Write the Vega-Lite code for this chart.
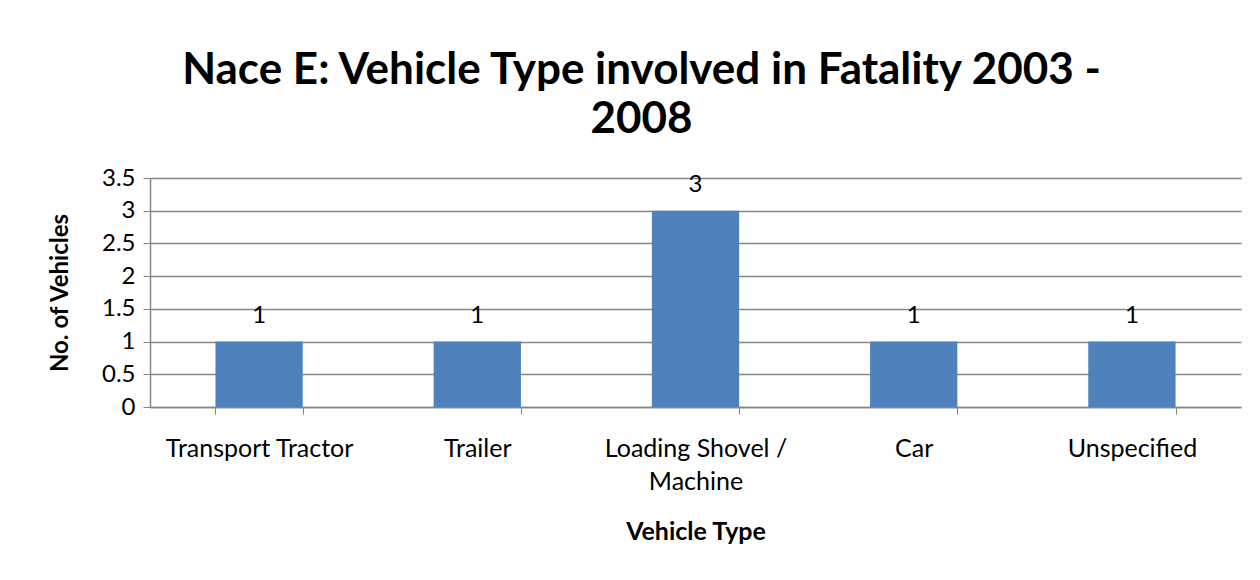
{
  "$schema": "https://vega.github.io/schema/vega-lite/v6.json",
  "width": 1091,
  "height": 229,
  "autosize": "none",
  "padding": {"left": 150, "top": 178, "right": 19, "bottom": 173},
  "background": "white",
  "title": {
    "text": ["Nace E: Vehicle Type involved in Fatality 2003 -", "2008"],
    "font": "Lato",
    "fontSize": 44,
    "fontWeight": "bold",
    "color": "black",
    "anchor": "middle",
    "frame": "group",
    "dx": -54,
    "offset": 24,
    "lineHeight": 49
  },
  "data": {
    "values": [
      {"type": "Transport Tractor", "count": 1},
      {"type": "Trailer", "count": 1},
      {"type": "Loading Shovel / Machine", "count": 3},
      {"type": "Car", "count": 1},
      {"type": "Unspecified", "count": 1}
    ]
  },
  "encoding": {
    "x": {
      "field": "type",
      "type": "nominal",
      "sort": null,
      "scale": {"paddingInner": 0.6, "paddingOuter": 0.3},
      "axis": {
        "title": "Vehicle Type",
        "titleFont": "Lato",
        "titleFontSize": 25,
        "titleFontWeight": "bold",
        "titleColor": "black",
        "titlePadding": 25,
        "labelFont": "Lato",
        "labelFontSize": 25,
        "labelColor": "black",
        "labelAngle": 0,
        "labelPadding": 22,
        "labelLimit": 300,
        "labelLineHeight": 33,
        "labelExpr": "datum.label == 'Loading Shovel / Machine' ? ['Loading Shovel /', 'Machine'] : datum.label",
        "tickBand": "extent",
        "tickSize": 7,
        "tickColor": "#868686",
        "domainColor": "#868686",
        "domainWidth": 1.5,
        "grid": false
      }
    },
    "y": {
      "field": "count",
      "type": "quantitative",
      "scale": {"domain": [0, 3.5]},
      "axis": {
        "title": "No. of Vehicles",
        "titleFont": "Lato",
        "titleFontSize": 24,
        "titleFontWeight": "bold",
        "titleColor": "black",
        "titlePadding": 29,
        "values": [0, 0.5, 1, 1.5, 2, 2.5, 3, 3.5],
        "format": "~g",
        "labelFont": "Lato",
        "labelFontSize": 24,
        "labelColor": "black",
        "labelPadding": 8,
        "tickSize": 7,
        "tickColor": "#868686",
        "domainColor": "#868686",
        "domainWidth": 1.5,
        "gridColor": "#868686",
        "gridWidth": 1.5
      }
    }
  },
  "layer": [
    {"mark": {"type": "bar", "color": "#4F81BD"}},
    {
      "mark": {"type": "text", "font": "Lato", "fontSize": 24, "color": "black", "baseline": "bottom", "dy": -14},
      "encoding": {"text": {"field": "count", "type": "quantitative"}}
    }
  ],
  "config": {"view": {"stroke": null}}
}
